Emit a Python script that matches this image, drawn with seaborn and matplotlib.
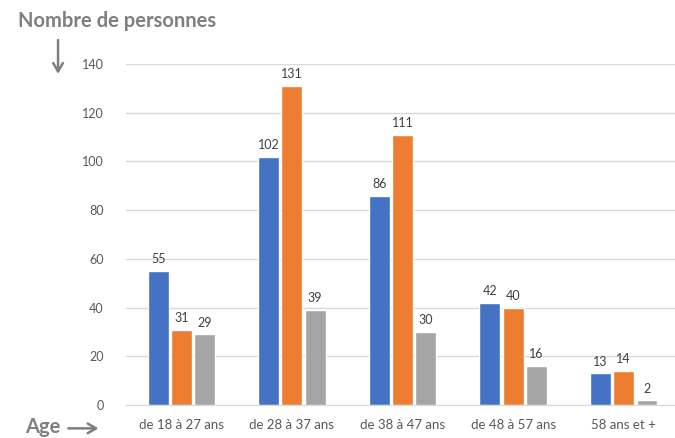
import numpy as np
import pandas as pd
import seaborn as sns
import matplotlib.pyplot as plt
from matplotlib.patches import FancyArrowPatch

categories = ["de 18 à 27 ans", "de 28 à 37 ans", "de 38 à 47 ans", "de 48 à 57 ans", "58 ans et +"]
series_names = ["Série 1", "Série 2", "Série 3"]
serie1 = [55, 102, 86, 42, 13]
serie2 = [31, 131, 111, 40, 14]
serie3 = [29, 39, 30, 16, 2]
colors = ["#4472C4", "#ED7D31", "#A5A5A5"]

df = pd.DataFrame({
    "age": categories * 3,
    "serie": [series_names[0]] * 5 + [series_names[1]] * 5 + [series_names[2]] * 5,
    "n": serie1 + serie2 + serie3,
})

sns.set_style("white")
plt.rcParams["font.family"] = ["Lato", "DejaVu Sans"]

fig = plt.figure(figsize=(6.75, 4.38), dpi=100)
ax = fig.add_axes([0.1867, 0.0753, 0.8193, 0.7786])

sns.barplot(data=df, x="age", y="n", hue="serie", palette=colors,
            width=0.63, gap=0.1, legend=False, ax=ax, saturation=1)

for cont in ax.containers:
    ax.bar_label(cont, padding=4, fontsize=9, color="#404040")

ax.set_ylim(0, 140)
ax.set_yticks(range(0, 141, 20))
ax.yaxis.grid(True, color="#D9D9D9", linewidth=1)
ax.set_axisbelow(True)
for s in ["top", "right", "left"]:
    ax.spines[s].set_visible(False)
ax.spines["bottom"].set_color("#D9D9D9")
ax.tick_params(axis="y", length=0, pad=16, labelsize=9, labelcolor="#595959")
ax.tick_params(axis="x", length=0, pad=10, labelsize=9.5, labelcolor="#595959")
ax.set_xlabel("")
ax.set_ylabel("")

fig.text(0.027, 0.952, "Nombre de personnes", fontsize=14.5, color="#7F7F7F",
         fontweight="bold", va="center", ha="left")
fig.text(0.037, 0.025, "Age", fontsize=14.5, color="#7F7F7F",
         fontweight="bold", va="center", ha="left")

fig.patches.append(FancyArrowPatch(
    (0.086, 0.915), (0.086, 0.825), transform=fig.transFigure,
    arrowstyle="->,head_length=6,head_width=3.5", color="#7F7F7F", lw=1.8))
fig.patches.append(FancyArrowPatch(
    (0.097, 0.022), (0.15, 0.022), transform=fig.transFigure,
    arrowstyle="->,head_length=6,head_width=3.5", color="#7F7F7F", lw=1.8))

plt.savefig("out.png", dpi=100)
